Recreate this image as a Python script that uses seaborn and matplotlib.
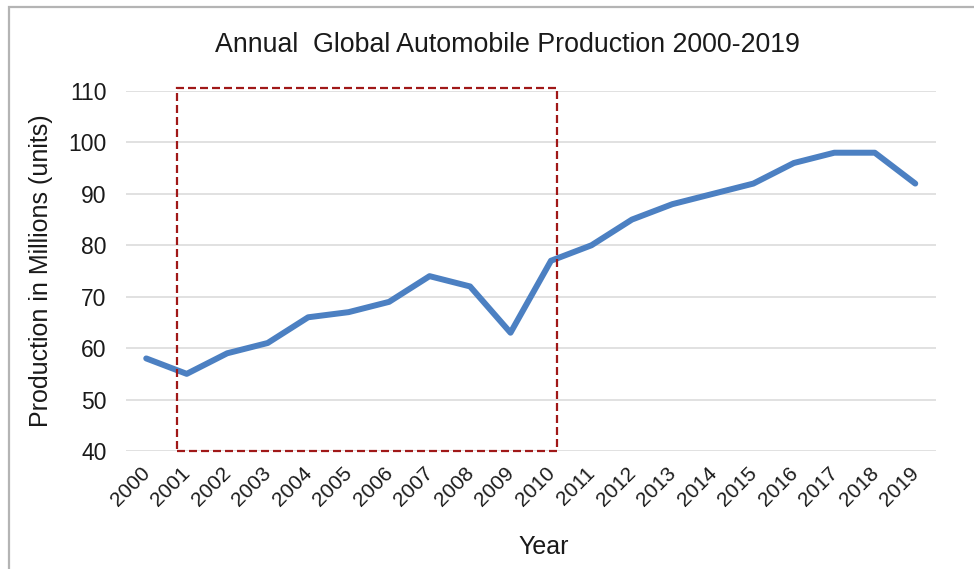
import matplotlib
matplotlib.use("Agg")
import matplotlib.pyplot as plt
from matplotlib.patches import Rectangle
from matplotlib.transforms import ScaledTranslation
import seaborn as sns
import pandas as pd

years = list(range(2000, 2020))
production = [58, 55, 59, 61, 66, 67, 69, 74, 72, 63, 77, 80, 85, 88, 90, 92, 96, 98, 98, 92]
y_ticks = [40, 50, 60, 70, 80, 90, 100, 110]
title = "Annual  Global Automobile Production 2000-2019"
x_label = "Year"
y_label = "Production in Millions (units)"

df = pd.DataFrame({"Year": years, "Production": production})

sns.set_theme(style="white")
plt.rcParams["font.family"] = ["Liberation Sans", "DejaVu Sans"]

fig = plt.figure(figsize=(9.74, 5.69), dpi=100)
ax = fig.add_axes([126 / 974, 1 - 451 / 569, (935.5 - 126) / 974, (451 - 91) / 569])

# figure border (extends past right/bottom edges)
fig.patches.append(Rectangle((9 / 974, -0.1), 1.2, 1 - 7.0 / 569 + 0.1,
                             transform=fig.transFigure, fill=False,
                             edgecolor="#b4b4b4", linewidth=1.6, zorder=0))

sns.lineplot(data=df, x="Year", y="Production", ax=ax, color="#4C80C2",
             linewidth=4.3, solid_joinstyle="round", solid_capstyle="round")

ax.set_xlim(years[0] - 0.5, years[-1] + 0.5)
ax.set_ylim(y_ticks[0], y_ticks[-1])
ax.set_yticks(y_ticks)
ax.set_xticks(years)
ax.set_xticklabels([str(y) for y in years], rotation=45, ha="right",
                   rotation_mode="anchor", fontsize=15)
ax.tick_params(axis="y", labelsize=16.5, pad=14, length=0)
ax.tick_params(axis="x", pad=9, length=0)
shift = ScaledTranslation(-6 / 100, 0, fig.dpi_scale_trans)
for lab in ax.get_xticklabels():
    lab.set_transform(lab.get_transform() + shift)
    lab.set_color("#1a1a1a")
for lab in ax.get_yticklabels():
    lab.set_color("#1a1a1a")

ax.grid(axis="y", color="#dcdcdc", linewidth=1.2)
ax.grid(axis="x", visible=False)
for s in ax.spines.values():
    s.set_visible(False)

ax.set_xlabel(x_label, fontsize=18, color="#1a1a1a")
ax.xaxis.set_label_coords(0.516, -0.232)
ax.set_ylabel(y_label, fontsize=18, color="#1a1a1a")
ax.yaxis.set_label_coords(-0.09, 0.5)

fig.text(507 / 974, 1 - 45 / 569, title, ha="center", va="center",
         fontsize=19.3, color="#1a1a1a")

# highlighted period box
rect = Rectangle((years[0] + 0.76, 40.0), 9.38, 70.6, fill=False,
                 edgecolor="#A01818", linewidth=1.6,
                 linestyle=(0, (3.6, 1.8)), clip_on=False, zorder=3)
ax.add_patch(rect)

fig.savefig("out.png", dpi=100)
